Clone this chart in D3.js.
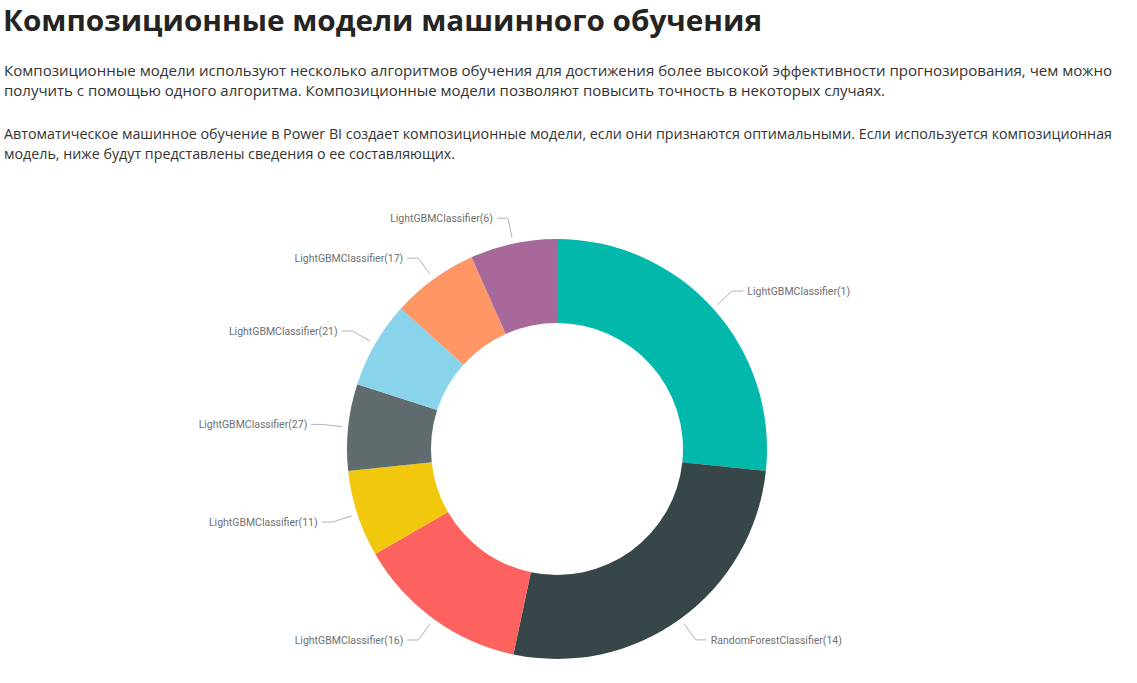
<!DOCTYPE html>
<html>
<head>
<meta charset="utf-8">
<script src="https://cdn.jsdelivr.net/npm/d3@7"></script>
<style>
  html, body { margin: 0; padding: 0; background: #fff; }
  svg { display: block; }
</style>
</head>
<body>
<svg id="chart" width="1137" height="683"></svg>
<script>
const titleText = "Композиционные модели машинного обучения";
const paragraphLines = [
  "Композиционные модели используют несколько алгоритмов обучения для достижения более высокой эффективности прогнозирования, чем можно",
  "получить с помощью одного алгоритма. Композиционные модели позволяют повысить точность в некоторых случаях.",
  "",
  "Автоматическое машинное обучение в Power BI создает композиционные модели, если они признаются оптимальными. Если используется композиционная",
  "модель, ниже будут представлены сведения о ее составляющих."
];
const categories = [
  "LightGBMClassifier(1)",
  "RandomForestClassifier(14)",
  "LightGBMClassifier(16)",
  "LightGBMClassifier(11)",
  "LightGBMClassifier(27)",
  "LightGBMClassifier(21)",
  "LightGBMClassifier(17)",
  "LightGBMClassifier(6)"
];
const weights = [0.2667, 0.2667, 0.1333, 0.0667, 0.0667, 0.0667, 0.0667, 0.0667];
const colors = ["#01B8AA", "#374649", "#FD625E", "#F2C80F", "#5F6B6D", "#8AD4EB", "#FE9666", "#A66999"];

const svg = d3.select("#chart");

svg.append("text")
  .attr("x", 3).attr("y", 31)
  .attr("font-family", "'Open Sans', 'Noto Sans', sans-serif")
  .attr("font-weight", 700)
  .attr("font-size", 29)
  .attr("fill", "#252423")
  .attr("textLength", 759)
  .attr("lengthAdjust", "spacingAndGlyphs")
  .text(titleText);

const para = svg.append("g")
  .attr("font-family", "'Open Sans', 'Noto Sans', sans-serif")
  .attr("font-size", 14.5)
  .attr("fill", "#333");
const lineY = [76, 96, 117, 139, 159];
const lineEnd = [1112, 885, 0, 1112, 455];
paragraphLines.forEach((t, i) => {
  if (!t) return;
  para.append("text").attr("x", 4).attr("y", lineY[i])
    .attr("textLength", lineEnd[i] - 4)
    .attr("lengthAdjust", "spacingAndGlyphs")
    .text(t);
});

const cx = 557, cy = 449, rOuter = 210, rInner = 126;
const g = svg.append("g").attr("transform", `translate(${cx},${cy})`);

const data = categories.map((c, i) => ({ name: c, value: weights[i], color: colors[i] }));
const pie = d3.pie().value(d => d.value).sort(null);
const arcs = pie(data);
const arc = d3.arc().innerRadius(rInner).outerRadius(rOuter);

g.selectAll("path.slice").data(arcs).join("path")
  .attr("class", "slice")
  .attr("d", arc)
  .attr("fill", d => d.data.color);

const rStart = 216, rElbow = 236, hLen = 11, gap = 4;
const pt = (a, r) => [r * Math.sin(a), -r * Math.cos(a)];

arcs.forEach(d => {
  const mid = (d.startAngle + d.endAngle) / 2;
  const right = Math.sin(mid) > 0;
  const p0 = pt(mid, rStart);
  const p1 = pt(mid, rElbow);
  const p2 = [p1[0] + (right ? hLen : -hLen), p1[1]];
  g.append("polyline")
    .attr("points", [p0, p1, p2].map(p => p.join(",")).join(" "))
    .attr("fill", "none")
    .attr("stroke", "#b3b3b3")
    .attr("stroke-width", 1);
  g.append("text")
    .attr("x", p2[0] + (right ? gap : -gap))
    .attr("y", p2[1])
    .attr("dy", "0.35em")
    .attr("text-anchor", right ? "start" : "end")
    .attr("font-family", "Roboto, 'DejaVu Sans', sans-serif")
    .attr("font-size", 10.5)
    .attr("fill", "#6f6f6f")
    .text(d.data.name);
});
</script>
</body>
</html>
